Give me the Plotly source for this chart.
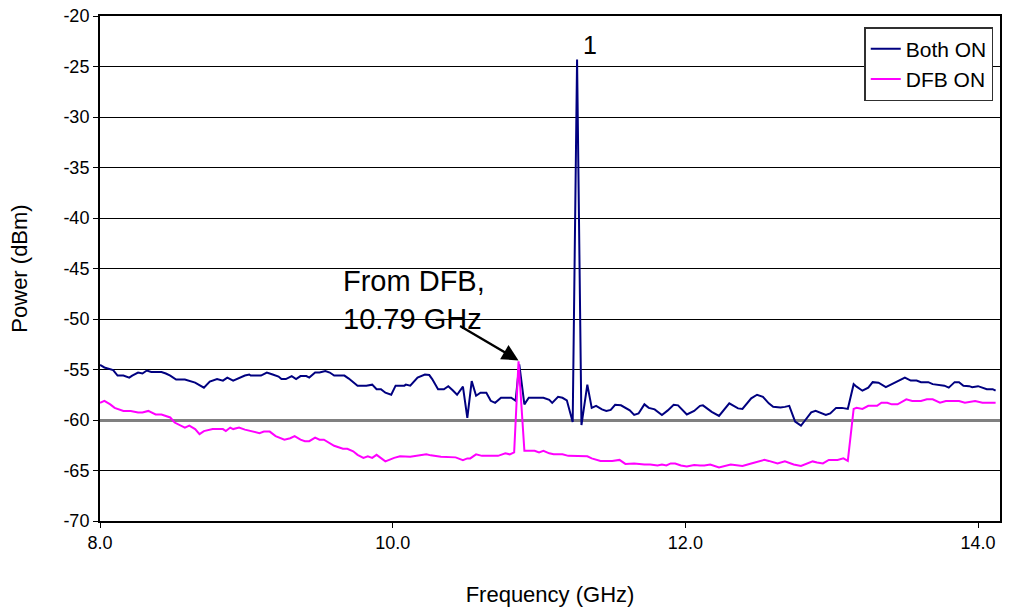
import plotly.graph_objects as go

# ---- Data ----
both_freq = [8.00, 8.03, 8.09, 8.12, 8.16, 8.20, 8.22, 8.26, 8.29, 8.32, 8.35, 8.42, 8.45, 8.48,
             8.52, 8.58, 8.65, 8.71, 8.75, 8.80, 8.84, 8.87, 8.91, 8.94, 8.99, 9.02, 9.03, 9.10,
             9.14, 9.18, 9.22, 9.24, 9.27, 9.31, 9.34, 9.37, 9.41, 9.43, 9.47, 9.50, 9.54, 9.57,
             9.60, 9.67, 9.70, 9.76, 9.82, 9.86, 9.89, 9.92, 9.95, 9.99, 10.02, 10.08, 10.09,
             10.12, 10.17, 10.22, 10.25, 10.27, 10.31, 10.35, 10.38, 10.41, 10.44, 10.48, 10.51,
             10.54, 10.57, 10.60, 10.64, 10.67, 10.70, 10.74, 10.81, 10.84, 10.865, 10.90, 10.93,
             11.03, 11.07, 11.09, 11.13, 11.16, 11.19, 11.23, 11.26, 11.29, 11.33, 11.36, 11.39,
             11.43, 11.46, 11.49, 11.52, 11.56, 11.62, 11.65, 11.68, 11.72, 11.75, 11.79, 11.84,
             11.88, 11.92, 11.95, 12.01, 12.06, 12.10, 12.12, 12.15, 12.18, 12.23, 12.30, 12.36,
             12.39, 12.45, 12.49, 12.53, 12.57, 12.60, 12.65, 12.68, 12.71, 12.75, 12.79, 12.82,
             12.86, 12.89, 12.93, 12.96, 12.99, 13.03, 13.07, 13.11, 13.15, 13.17, 13.21, 13.25,
             13.28, 13.32, 13.37, 13.41, 13.45, 13.50, 13.54, 13.58, 13.61, 13.66, 13.69, 13.73,
             13.77, 13.80, 13.84, 13.87, 13.90, 13.94, 13.96, 14.00, 14.03, 14.06, 14.10, 14.12]
both_power = [-54.55, -54.8, -55.05, -55.6, -55.6, -55.8, -55.6, -55.3, -55.4, -55.1, -55.25, -55.25,
              -55.4, -55.6, -56.0, -56.0, -56.3, -56.8, -56.2, -55.95, -56.1, -55.8, -56.1, -55.9,
              -55.6, -55.5, -55.6, -55.6, -55.3, -55.5, -55.7, -55.95, -55.95, -55.65, -55.95,
              -55.65, -55.65, -55.8, -55.3, -55.3, -55.15, -55.3, -55.6, -55.6, -55.9, -56.6,
              -56.6, -56.5, -56.95, -56.95, -57.3, -57.5, -56.6, -56.6, -56.5, -56.6, -55.8,
              -55.5, -55.55, -55.95, -56.95, -56.95, -56.65, -57.05, -57.5, -56.7, -59.8, -56.15,
              -57.6, -57.3, -57.3, -58.1, -58.3, -57.8, -57.8, -58.1, -54.5, -58.45, -57.8,
              -57.8, -58.0, -58.3, -57.7, -57.8, -58.05, -60.2, -24.3, -60.5, -56.5, -58.8, -58.6,
              -58.95, -59.1, -59.0, -58.5, -58.55, -59.05, -59.5, -59.35, -58.45, -58.8, -58.95,
              -59.5, -59.05, -58.5, -58.55, -59.45, -59.1, -58.6, -58.55, -58.85, -59.2, -59.6,
              -58.35, -58.85, -58.9, -57.85, -57.5, -57.7, -58.35, -58.7, -58.75, -58.7, -58.6,
              -60.15, -60.55, -60.0, -59.25, -59.1, -59.35, -59.5, -59.35, -58.8, -58.8, -58.9,
              -56.45, -56.7, -57.1, -56.8, -56.25, -56.3, -56.75, -56.45, -56.1, -55.8, -56.1,
              -56.1, -56.25, -56.25, -56.45, -56.5, -56.6, -56.8, -56.25, -56.25, -56.6, -56.65,
              -56.75, -56.65, -56.8, -56.95, -56.95, -57.1]

dfb_freq = [8.00, 8.03, 8.07, 8.10, 8.16, 8.21, 8.26, 8.29, 8.33, 8.38, 8.42, 8.48, 8.51, 8.55,
            8.58, 8.61, 8.65, 8.68, 8.71, 8.77, 8.84, 8.86, 8.89, 8.91, 8.95, 8.99, 9.04, 9.09,
            9.12, 9.16, 9.20, 9.26, 9.30, 9.33, 9.37, 9.40, 9.43, 9.47, 9.50, 9.53, 9.60, 9.66,
            9.69, 9.73, 9.76, 9.80, 9.83, 9.86, 9.89, 9.92, 9.95, 10.01, 10.05, 10.12, 10.18,
            10.23, 10.26, 10.33, 10.43, 10.48, 10.51, 10.53, 10.57, 10.61, 10.72, 10.77, 10.80,
            10.83, 10.86, 10.90, 10.97, 11.00, 11.03, 11.07, 11.10, 11.16, 11.20, 11.27, 11.33,
            11.36, 11.42, 11.50, 11.55, 11.59, 11.65, 11.72, 11.76, 11.81, 11.84, 11.87, 11.90,
            11.93, 11.97, 12.01, 12.06, 12.10, 12.13, 12.17, 12.23, 12.31, 12.39, 12.45, 12.54,
            12.57, 12.63, 12.68, 12.74, 12.79, 12.82, 12.87, 12.90, 12.94, 12.98, 13.04, 13.08,
            13.11, 13.15, 13.17, 13.21, 13.25, 13.31, 13.34, 13.38, 13.41, 13.45, 13.51, 13.55,
            13.61, 13.65, 13.69, 13.74, 13.78, 13.87, 13.91, 13.98, 14.03, 14.12]
dfb_power = [-58.3, -58.1, -58.45, -58.8, -59.1, -59.1, -59.25, -59.25, -59.1, -59.45, -59.45,
             -59.75, -60.25, -60.5, -60.75, -60.55, -60.9, -61.4, -61.1, -60.9, -60.9, -61.1,
             -60.75, -60.9, -60.75, -60.95, -61.15, -61.3, -61.15, -61.15, -61.6, -61.95, -61.8,
             -61.6, -61.95, -62.1, -62.1, -61.75, -61.95, -61.95, -62.55, -62.85, -62.85, -63.1,
             -63.45, -63.75, -63.6, -63.75, -63.45, -63.75, -64.1, -63.75, -63.6, -63.63, -63.5,
             -63.4, -63.5, -63.63, -63.7, -63.97, -63.8, -63.8, -63.4, -63.55, -63.55, -63.3,
             -63.4, -63.2, -54.2, -63.05, -63.05, -63.2, -63.05, -63.3, -63.4, -63.4, -63.55,
             -63.55, -63.6, -63.8, -64.05, -64.05, -63.95, -64.35, -64.3, -64.4, -64.4, -64.5,
             -64.4, -64.5, -64.3, -64.3, -64.5, -64.6, -64.45, -64.5, -64.5, -64.4, -64.7, -64.4,
             -64.55, -64.3, -63.95, -64.05, -64.3, -64.1, -64.4, -64.55, -64.4, -64.1, -64.2,
             -64.3, -63.95, -63.95, -63.8, -64.05, -58.91, -58.78, -58.91, -58.6, -58.6, -58.29,
             -58.29, -58.45, -58.45, -57.95, -58.12, -58.12, -57.95, -57.95, -58.29, -58.12,
             -58.12, -58.29, -58.12, -58.29, -58.29]

x_ticks = [8.0, 10.0, 12.0, 14.0]
x_tick_labels = ["8.0", "10.0", "12.0", "14.0"]
y_ticks = [-70, -65, -60, -55, -50, -45, -40, -35, -30, -25, -20]
y_tick_labels = ["-70", "-65", "-60", "-55", "-50", "-45", "-40", "-35", "-30", "-25", "-20"]
gray_grid_value = [-60]

FONT = "Liberation Sans, Arial, sans-serif"

fig = go.Figure()
fig.add_trace(go.Scatter(x=both_freq, y=both_power, mode="lines", name="Both ON",
                         line=dict(color="#000080", width=2)))
fig.add_trace(go.Scatter(x=dfb_freq, y=dfb_power, mode="lines", name="DFB ON",
                         line=dict(color="#FF00FF", width=2)))
# empty trace to activate the overlay axis that carries the gray gridline
fig.add_trace(go.Scatter(x=[], y=[], yaxis="y2", showlegend=False, hoverinfo="skip"))

fig.add_annotation(x=11.35, y=-22.9, text="1", showarrow=False,
                   font=dict(family=FONT, size=25, color="black"), xanchor="center", yanchor="middle")
fig.add_annotation(x=9.645, y=-44.5, text="From DFB,<br>10.79 GHz", showarrow=False, align="left",
                   font=dict(family=FONT, size=29, color="black"), xanchor="left", yanchor="top")
fig.add_annotation(x=10.86, y=-54.1, ax=10.45, ay=-50.6, xref="x", yref="y", axref="x", ayref="y",
                   text="", showarrow=True, arrowhead=2, arrowsize=1.5, arrowwidth=2.2,
                   arrowcolor="black")

fig.update_layout(
    width=1014, height=609,
    margin=dict(l=100, r=14, t=16, b=88),
    paper_bgcolor="white", plot_bgcolor="white",
    font=dict(family=FONT, size=18, color="black"),
    showlegend=True,
    legend=dict(x=0.9925, y=0.978, xanchor="right", yanchor="top",
                bgcolor="white", bordercolor="#303030", borderwidth=1.5,
                font=dict(family=FONT, size=21, color="black"),
                tracegroupgap=0, itemwidth=30),
    yaxis2=dict(overlaying="y", range=[-70, -20], tickvals=gray_grid_value,
                showgrid=True, gridcolor="#808080", gridwidth=3, zeroline=False,
                showticklabels=False, ticks="", showline=False, automargin=False),
)
fig.update_xaxes(range=[8.0, 14.15], tickvals=x_ticks, ticktext=x_tick_labels,
                 showgrid=False, zeroline=False, automargin=False,
                 showline=True, linecolor="black", linewidth=1.5, mirror=True,
                 ticks="outside", ticklen=5, tickcolor="black",
                 title=dict(text="Frequency (GHz)", font=dict(family=FONT, size=22), standoff=34),
                 tickfont=dict(family=FONT, size=18))
fig.update_yaxes(selector=dict(overlaying=None), range=[-70, -20], tickvals=y_ticks, ticktext=y_tick_labels,
                 showgrid=True, gridcolor="black", gridwidth=1, zeroline=False, automargin=False,
                 showline=True, linecolor="black", linewidth=2, mirror=True,
                 ticks="outside", ticklen=5, tickcolor="black",
                 title=dict(text="Power (dBm)", font=dict(family=FONT, size=22), standoff=30),
                 tickfont=dict(family=FONT, size=18))

fig.write_html("out.html")
